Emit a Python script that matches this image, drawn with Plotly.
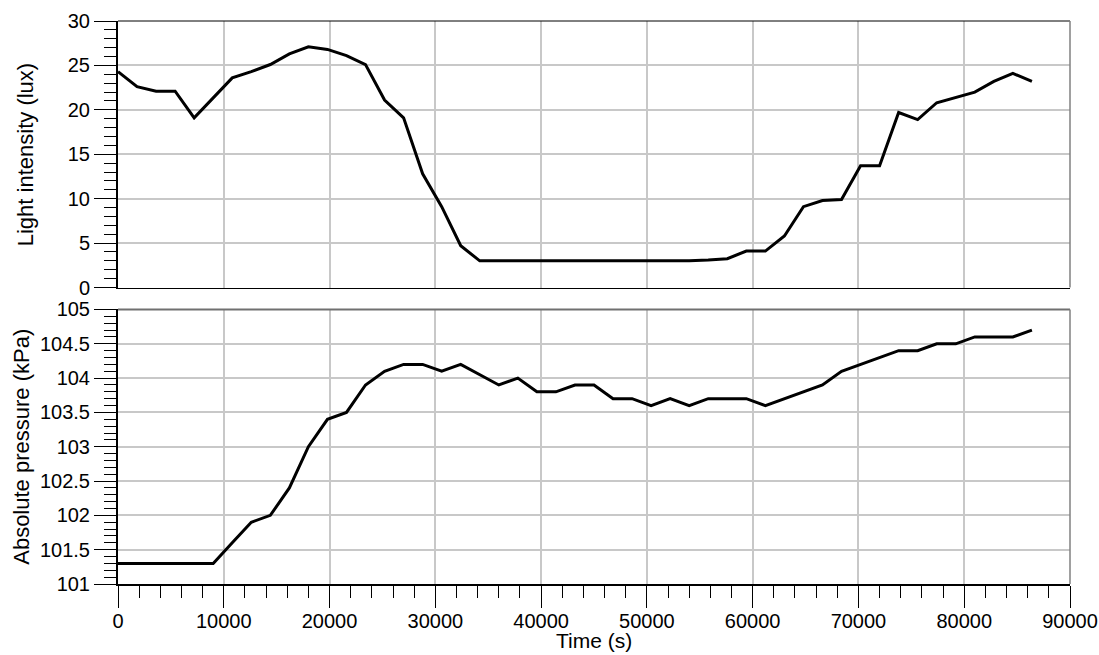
import plotly.graph_objects as go
from plotly.subplots import make_subplots

time_s = [0, 1800, 3600, 5400, 7200, 9000, 10800, 12600, 14400, 16200,
          18000, 19800, 21600, 23400, 25200, 27000, 28800, 30600, 32400, 34200,
          36000, 37800, 39600, 41400, 43200, 45000, 46800, 48600, 50400, 52200,
          54000, 55800, 57600, 59400, 61200, 63000, 64800, 66600, 68400, 70200,
          72000, 73800, 75600, 77400, 79200, 81000, 82800, 84600, 86400]

light_lux = [24.3, 22.6, 22.1, 22.1, 19.1, 21.3, 23.6, 24.3, 25.1, 26.3,
             27.1, 26.8, 26.1, 25.1, 21.1, 19.1, 12.8, 9.1, 4.7, 3.0,
             3.0, 3.0, 3.0, 3.0, 3.0, 3.0, 3.0, 3.0, 3.0, 3.0,
             3.0, 3.1, 3.25, 4.1, 4.1, 5.8, 9.1, 9.8, 9.9, 13.7,
             13.7, 19.7, 18.9, 20.8, 21.4, 22.0, 23.2, 24.1, 23.2]

pressure_kpa = [101.3, 101.3, 101.3, 101.3, 101.3, 101.3, 101.6, 101.9, 102.0, 102.4,
                103.0, 103.4, 103.5, 103.9, 104.1, 104.2, 104.2, 104.1, 104.2, 104.05,
                103.9, 104.0, 103.8, 103.8, 103.9, 103.9, 103.7, 103.7, 103.6, 103.7,
                103.6, 103.7, 103.7, 103.7, 103.6, 103.7, 103.8, 103.9, 104.1, 104.2,
                104.3, 104.4, 104.4, 104.5, 104.5, 104.6, 104.6, 104.6, 104.7]

x_title = "Time (s)"
y1_title = "Light intensity (lux)"
y2_title = "Absolute pressure (kPa)"

FONT = "Liberation Sans, Arial, sans-serif"
GRID = "#c8c8c8"

fig = make_subplots(rows=2, cols=1, shared_xaxes=False, vertical_spacing=0.04)

fig.add_trace(go.Scatter(x=time_s, y=light_lux, mode="lines",
                         line=dict(color="black", width=3)), row=1, col=1)
fig.add_trace(go.Scatter(x=time_s, y=pressure_kpa, mode="lines",
                         line=dict(color="black", width=3)), row=2, col=1)

common_x = dict(range=[0, 90000], dtick=10000, tick0=0, showgrid=True,
                gridcolor=GRID, gridwidth=1.5, zeroline=False, showline=True,
                linecolor="black", automargin=False)

fig.update_layout(
    width=1099, height=655,
    margin=dict(l=118, r=29, t=21, b=71, autoexpand=False),
    paper_bgcolor="white", plot_bgcolor="white",
    showlegend=False,
    font=dict(family=FONT, size=20, color="black"),
    xaxis=dict(**common_x, domain=[0, 1], linewidth=1, showticklabels=False,
               ticks=""),
    yaxis=dict(domain=[0.5266, 1], range=[0, 30], dtick=5, tick0=0,
               showgrid=True, gridcolor=GRID, gridwidth=1.5, zeroline=False,
               showline=True, linecolor="black", linewidth=2, automargin=False,
               ticks="outside", ticklen=22, tickwidth=1, tickcolor="black",
               tickfont=dict(family=FONT, size=20, color="black"),
               minor=dict(dtick=1, ticks="outside", ticklen=12, tickwidth=1,
                          tickcolor="black", showgrid=False)),
    xaxis2=dict(**common_x, domain=[0, 1], linewidth=2, ticks="outside",
                ticklen=22, tickwidth=1, tickcolor="black", tickformat="d",
                ticklabelstandoff=-4,
                tickfont=dict(family=FONT, size=20, color="black"),
                minor=dict(dtick=2000, ticks="outside", ticklen=12, tickwidth=1,
                           tickcolor="black", showgrid=False)),
    yaxis2=dict(domain=[0, 0.4876], range=[101, 105], dtick=0.5, tick0=101,
                showgrid=True, gridcolor=GRID, gridwidth=1.5, zeroline=False,
                showline=True, linecolor="black", linewidth=2, automargin=False,
                ticks="outside", ticklen=22, tickwidth=1, tickcolor="black",
                tickfont=dict(family=FONT, size=20, color="black"),
                minor=dict(dtick=0.1, ticks="outside", ticklen=12, tickwidth=1,
                           tickcolor="black", showgrid=False)),
)

# Frame edges (top / right) of each panel
fig.add_shape(type="line", xref="x domain", yref="y domain", x0=0, x1=1, y0=1, y1=1,
              line=dict(color="black", width=1))
fig.add_shape(type="line", xref="x domain", yref="y domain", x0=1, x1=1, y0=0, y1=1,
              line=dict(color="#808080", width=1.5))
fig.add_shape(type="line", xref="x2 domain", yref="y2 domain", x0=0, x1=1, y0=1, y1=1,
              line=dict(color="#707070", width=2))
fig.add_shape(type="line", xref="x2 domain", yref="y2 domain", x0=1, x1=1, y0=0, y1=1,
              line=dict(color="#808080", width=1.5))

# Axis titles
fig.add_annotation(text=y1_title, textangle=-90, xref="paper", yref="y domain",
                   x=-0.0977, y=0.5, xanchor="center", yanchor="middle",
                   showarrow=False, font=dict(family=FONT, size=22, color="black"))
fig.add_annotation(text=y2_title, textangle=-90, xref="paper", yref="y2 domain",
                   x=-0.1008, y=0.5, xanchor="center", yanchor="middle",
                   showarrow=False, font=dict(family=FONT, size=22, color="black"))
fig.add_annotation(text=x_title, xref="paper", yref="paper",
                   x=0.5, y=-0.1225, xanchor="center", yanchor="bottom",
                   borderpad=0,
                   showarrow=False, font=dict(family=FONT, size=21, color="black"))

fig.write_html("out.html")
